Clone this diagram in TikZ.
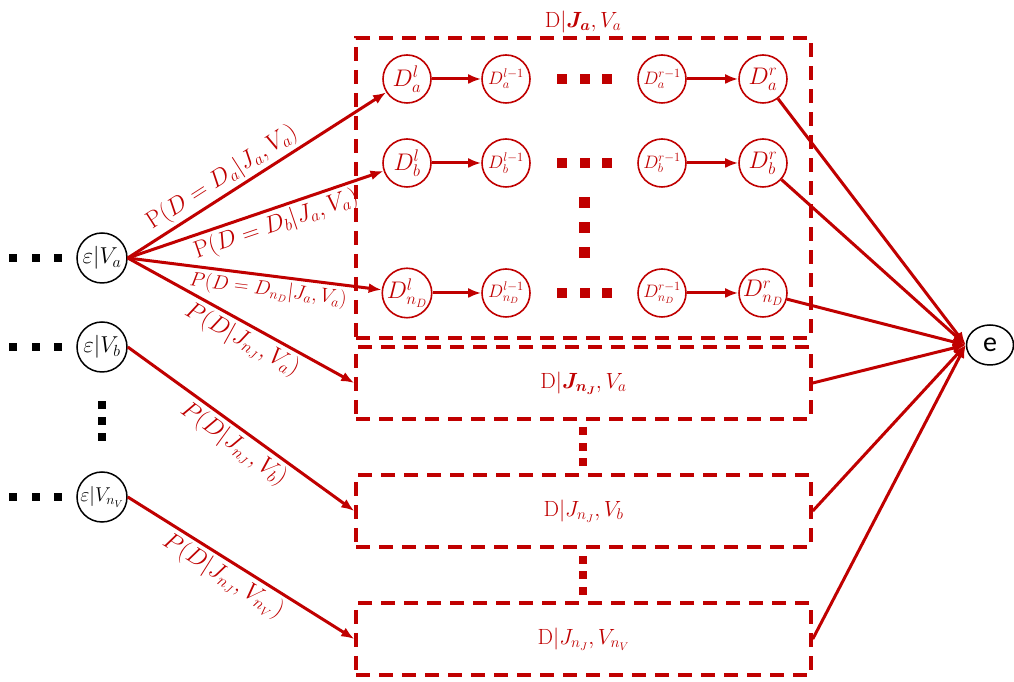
\RequirePackage{fix-cm}
\documentclass[tikz,border=0pt]{standalone}
\usepackage{fontspec}
\usepackage{bm}
\usepackage{xcolor,tikz}
\usetikzlibrary{arrows.meta,shapes.geometric}
\newfontfamily\efont{Carlito}
\definecolor{drawColor}{RGB}{192,0,0}
\definecolor{dotColor}{RGB}{0,0,0}

\tikzset{
  epsnode/.style={circle,draw=black,line width=1.5pt,minimum size=50pt,inner sep=0pt,
    font=\fontsize{23}{25}\selectfont},
  dnode/.style={circle,draw=drawColor,line width=1.6pt,text=drawColor,minimum size=48pt,
    inner sep=0pt,font=\fontsize{24}{26}\selectfont},
  dsmall/.style={dnode,font=\fontsize{18}{20}\selectfont},
  groupbox/.style={draw=drawColor,line width=3.5pt,dash pattern=on 14pt off 9pt,
    text=drawColor,inner sep=0pt,font=\fontsize{22}{24}\selectfont},
  link/.style={draw=drawColor,line width=3pt,-{Latex[length=13pt,width=10pt]}},
  problabel/.style={text=drawColor,sloped,inner sep=3pt,font=\fontsize{24}{26}\selectfont},
}

\begin{document}
\begin{tikzpicture}[x=1pt,y=1pt]
\path[use as bounding box,fill=white] (0,0) rectangle (1014,682);

% variable nodes on the left
\node[epsnode] (Va) at (102,424) {$\varepsilon|V_a$};
\node[epsnode] (Vb) at (102,335) {$\varepsilon|V_b$};
\node[epsnode,font=\fontsize{20}{22}\selectfont] (VnV) at (102,185) {$\varepsilon|V_{n_V}$};

\path[fill=dotColor] (  8.5,420) rectangle ( 16.5,428);
\path[fill=dotColor] ( 32.0,420) rectangle ( 40.0,428);
\path[fill=dotColor] ( 53.5,420) rectangle ( 61.5,428);
\path[fill=dotColor] (  8.5,331) rectangle ( 16.5,339);
\path[fill=dotColor] ( 32.0,331) rectangle ( 40.0,339);
\path[fill=dotColor] ( 53.5,331) rectangle ( 61.5,339);
\path[fill=dotColor] (  8.5,181) rectangle ( 16.5,189);
\path[fill=dotColor] ( 32.0,181) rectangle ( 40.0,189);
\path[fill=dotColor] ( 53.5,181) rectangle ( 61.5,189);
\path[fill=dotColor] ( 98.0,273) rectangle (106.0,281);
\path[fill=dotColor] ( 98.0,257) rectangle (106.0,265);
\path[fill=dotColor] ( 98.0,241) rectangle (106.0,249);

% group boxes
\node[groupbox,minimum width=455pt,minimum height=300pt] (boxa) at (583.5,494) {};
\node[text=drawColor,font=\fontsize{22}{24}\selectfont] (titlea) at (583,660) {$\mathrm{D}|\bm{J_a},V_a$};
\node[groupbox,minimum width=455pt,minimum height=72pt] (boxb) at (583.5,299) {$\mathrm{D}|\bm{J_{n_J}},V_a$};
\node[groupbox,minimum width=455pt,minimum height=72pt] (boxc) at (583.5,171) {$\mathrm{D}|J_{n_J},V_b$};
\node[groupbox,minimum width=455pt,minimum height=72pt] (boxd) at (583.5, 43) {$\mathrm{D}|J_{n_J},V_{n_V}$};

% chains inside the first box
\node[dnode]  (Dla)  at (407,603) {$D_a^l$};
\node[dsmall] (Dla1) at (506,603) {$D_a^{l-1}$};
\node[dsmall] (Dra1) at (662,603) {$D_a^{r-1}$};
\node[dnode]  (Dra)  at (763,603) {$D_a^r$};

\node[dnode]  (Dlb)  at (407,519) {$D_b^l$};
\node[dsmall] (Dlb1) at (506,519) {$D_b^{l-1}$};
\node[dsmall] (Drb1) at (662,519) {$D_b^{r-1}$};
\node[dnode]  (Drb)  at (763,519) {$D_b^r$};

\node[dnode]  (Dln)  at (407,389) {$D_{n_D}^l$};
\node[dsmall] (Dln1) at (506,389) {$D_{n_D}^{l-1}$};
\node[dsmall] (Drn1) at (662,389) {$D_{n_D}^{r-1}$};
\node[dnode]  (Drn)  at (763,389) {$D_{n_D}^r$};

\path[fill=drawColor] (557,598) rectangle (567,608);
\path[fill=drawColor] (580,598) rectangle (590,608);
\path[fill=drawColor] (602,598) rectangle (612,608);
\path[fill=drawColor] (557,514) rectangle (567,524);
\path[fill=drawColor] (580,514) rectangle (590,524);
\path[fill=drawColor] (602,514) rectangle (612,524);
\path[fill=drawColor] (557,384) rectangle (567,394);
\path[fill=drawColor] (580,384) rectangle (590,394);
\path[fill=drawColor] (602,384) rectangle (612,394);
\path[fill=drawColor] (578.5,473.5) rectangle (589.5,484.5);
\path[fill=drawColor] (578.5,448.5) rectangle (589.5,459.5);
\path[fill=drawColor] (578.5,423.5) rectangle (589.5,434.5);

% dots between the lower boxes
\path[fill=drawColor] (579,247) rectangle (587,255);
\path[fill=drawColor] (579,231) rectangle (587,239);
\path[fill=drawColor] (579,216) rectangle (587,224);
\path[fill=drawColor] (579,118) rectangle (587,126);
\path[fill=drawColor] (579,103) rectangle (587,111);
\path[fill=drawColor] (579, 87) rectangle (587, 95);

\draw[link] (Dla) -- (Dla1);
\draw[link] (Dra1) -- (Dra);
\draw[link] (Dlb) -- (Dlb1);
\draw[link] (Drb1) -- (Drb);
\draw[link] (Dln) -- (Dln1);
\draw[link] (Drn1) -- (Drn);

% evidence node
\node[ellipse,draw=black,line width=1.5pt,minimum width=47pt,minimum height=40pt,inner sep=0pt,
  font=\efont\fontsize{28}{30}\selectfont] (e) at (990,337) {e};

% transitions out of the variable nodes
\draw[link] (Va.east) -- node[problabel,above,pos=0.4] {$\mathrm{P}(D = D_a|J_a,V_a)$} (Dla);
\draw[link] (Va.east) -- node[problabel,below,pos=0.56] {$\mathrm{P}(D = D_b|J_a,V_a)$} (Dlb);
\draw[link] (Va.east) -- node[problabel,below,pos=0.56,font=\fontsize{20}{22}\selectfont] {$P(D = D_{n_D}|J_a,V_a)$} (Dln);
\draw[link] (Va.east) -- node[problabel,below,pos=0.54] {$P(D|J_{n_J},V_a)$} (boxb.west);
\draw[link] (Vb.east) -- node[problabel,below,pos=0.51] {$P(D|J_{n_J},V_b)$} (boxc.west);
\draw[link] (VnV.east) -- node[problabel,below,pos=0.46] {$P(D|J_{n_J},V_{n_V})$} (boxd.west);

% everything ends in e
\draw[link] (Dra) -- (e.west);
\draw[link] (Drb) -- (e.west);
\draw[link] (Drn) -- (e.west);
\draw[link] (boxb.east) -- (e.west);
\draw[link] (boxc.east) -- (e.west);
\draw[link] (boxd.east) -- (e.west);
\end{tikzpicture}
\end{document}
